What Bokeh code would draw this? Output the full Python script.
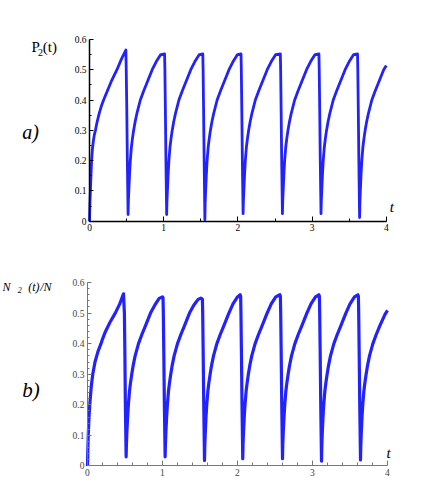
from bokeh.plotting import figure
from bokeh.layouts import column
from bokeh.models import Label, FixedTicker, LinearAxis, Range1d
from bokeh.embed import file_html
from bokeh.resources import INLINE

# ---------------- data ----------------
# panel a) : P2(t)
t_a = [0.0, 0.005, 0.012, 0.02, 0.028, 0.04, 0.052, 0.065, 0.08, 0.10, 0.13, 0.16, 0.19, 0.24, 0.30, 0.37, 0.43, 0.49,
       0.495, 0.502, 0.51, 0.52,
       0.524, 0.53, 0.54, 0.55, 0.565, 0.58, 0.595, 0.615, 0.64, 0.685, 0.73, 0.78, 0.845, 0.90, 0.96, 1.012,
       1.016, 1.022, 1.03, 1.04,
       1.044, 1.05, 1.06, 1.07, 1.085, 1.10, 1.115, 1.135, 1.16, 1.205, 1.25, 1.30, 1.365, 1.42, 1.48, 1.527,
       1.531, 1.537, 1.545, 1.555,
       1.559, 1.565, 1.575, 1.585, 1.60, 1.615, 1.63, 1.65, 1.675, 1.72, 1.765, 1.815, 1.88, 1.935, 1.995, 2.042,
       2.046, 2.052, 2.06, 2.07,
       2.074, 2.08, 2.09, 2.10, 2.115, 2.13, 2.145, 2.165, 2.19, 2.235, 2.28, 2.33, 2.395, 2.45, 2.51, 2.572,
       2.576, 2.582, 2.59, 2.60,
       2.604, 2.61, 2.62, 2.63, 2.645, 2.66, 2.675, 2.695, 2.72, 2.765, 2.81, 2.86, 2.925, 2.98, 3.04, 3.092,
       3.096, 3.102, 3.11, 3.12,
       3.124, 3.13, 3.14, 3.15, 3.165, 3.18, 3.195, 3.215, 3.24, 3.285, 3.33, 3.38, 3.445, 3.50, 3.56, 3.612,
       3.616, 3.622, 3.63, 3.64,
       3.644, 3.65, 3.66, 3.67, 3.685, 3.70, 3.715, 3.735, 3.76, 3.805, 3.85, 3.90, 3.965, 4.0]
p_a = [0.0, 0.05, 0.10, 0.15, 0.20, 0.24, 0.265, 0.285, 0.30, 0.325, 0.355, 0.38, 0.40, 0.43, 0.465, 0.50, 0.535, 0.565,
       0.50, 0.38, 0.20, 0.022,
       0.065, 0.10, 0.155, 0.20, 0.245, 0.275, 0.30, 0.328, 0.357, 0.40, 0.43, 0.46, 0.50, 0.527, 0.550, 0.552,
       0.50, 0.38, 0.20, 0.022,
       0.065, 0.10, 0.155, 0.20, 0.245, 0.275, 0.30, 0.328, 0.357, 0.40, 0.43, 0.46, 0.50, 0.527, 0.550, 0.552,
       0.50, 0.38, 0.20, 0.005,
       0.06, 0.10, 0.155, 0.20, 0.245, 0.275, 0.30, 0.328, 0.357, 0.40, 0.43, 0.46, 0.50, 0.527, 0.550, 0.552,
       0.50, 0.38, 0.20, 0.025,
       0.065, 0.10, 0.155, 0.20, 0.245, 0.275, 0.30, 0.328, 0.357, 0.40, 0.43, 0.46, 0.50, 0.527, 0.550, 0.552,
       0.50, 0.38, 0.20, 0.025,
       0.065, 0.10, 0.155, 0.20, 0.245, 0.275, 0.30, 0.328, 0.357, 0.40, 0.43, 0.46, 0.50, 0.527, 0.550, 0.552,
       0.50, 0.38, 0.20, 0.025,
       0.065, 0.10, 0.155, 0.20, 0.245, 0.275, 0.30, 0.328, 0.357, 0.40, 0.43, 0.46, 0.50, 0.527, 0.550, 0.552,
       0.50, 0.38, 0.20, 0.012,
       0.06, 0.10, 0.155, 0.20, 0.245, 0.275, 0.30, 0.328, 0.357, 0.40, 0.43, 0.46, 0.50, 0.514]

# panel b) : N2(t)/N
t_b = [0.0, 0.004, 0.01, 0.02, 0.03, 0.05, 0.07, 0.10, 0.14, 0.18, 0.20, 0.24, 0.30, 0.37, 0.43, 0.48,
       0.492, 0.498, 0.505, 0.515,
       0.519, 0.525, 0.535, 0.545, 0.56, 0.575, 0.59, 0.61, 0.635, 0.68, 0.725, 0.775, 0.84, 0.895, 0.955, 1.0, 1.007,
       1.011, 1.017, 1.025, 1.035,
       1.039, 1.045, 1.055, 1.065, 1.08, 1.095, 1.11, 1.13, 1.155, 1.20, 1.245, 1.295, 1.36, 1.415, 1.475, 1.51, 1.525, 1.532,
       1.536, 1.542, 1.55, 1.56,
       1.564, 1.57, 1.58, 1.59, 1.605, 1.62, 1.635, 1.655, 1.68, 1.725, 1.77, 1.82, 1.885, 1.94, 2.0, 2.035, 2.042,
       2.046, 2.052, 2.06, 2.07,
       2.074, 2.08, 2.09, 2.10, 2.115, 2.13, 2.145, 2.165, 2.19, 2.235, 2.28, 2.33, 2.395, 2.45, 2.51, 2.565, 2.572,
       2.576, 2.582, 2.59, 2.60,
       2.604, 2.61, 2.62, 2.63, 2.645, 2.66, 2.675, 2.695, 2.72, 2.765, 2.81, 2.86, 2.925, 2.98, 3.04, 3.085, 3.092,
       3.096, 3.102, 3.11, 3.12,
       3.124, 3.13, 3.14, 3.15, 3.165, 3.18, 3.195, 3.215, 3.24, 3.285, 3.33, 3.38, 3.445, 3.50, 3.56, 3.605, 3.612,
       3.616, 3.622, 3.63, 3.64,
       3.644, 3.65, 3.66, 3.67, 3.685, 3.70, 3.715, 3.735, 3.76, 3.805, 3.85, 3.90, 3.965, 4.0]
n_b = [0.0, 0.05, 0.10, 0.16, 0.20, 0.26, 0.30, 0.34, 0.375, 0.40, 0.415, 0.44, 0.47, 0.50, 0.53, 0.563,
       0.50, 0.38, 0.20, 0.03,
       0.07, 0.11, 0.16, 0.20, 0.245, 0.275, 0.30, 0.33, 0.36, 0.40, 0.43, 0.46, 0.50, 0.525, 0.548, 0.553, 0.55,
       0.50, 0.38, 0.20, 0.03,
       0.07, 0.11, 0.16, 0.20, 0.245, 0.275, 0.30, 0.33, 0.36, 0.40, 0.43, 0.46, 0.50, 0.525, 0.545, 0.549, 0.547, 0.545,
       0.50, 0.38, 0.20, 0.018,
       0.065, 0.105, 0.16, 0.20, 0.245, 0.275, 0.30, 0.33, 0.36, 0.40, 0.43, 0.46, 0.50, 0.53, 0.553, 0.56, 0.555,
       0.50, 0.38, 0.20, 0.024,
       0.07, 0.11, 0.16, 0.20, 0.245, 0.275, 0.30, 0.33, 0.36, 0.40, 0.43, 0.46, 0.50, 0.53, 0.553, 0.56, 0.555,
       0.50, 0.38, 0.20, 0.024,
       0.07, 0.11, 0.16, 0.20, 0.245, 0.275, 0.30, 0.33, 0.36, 0.40, 0.43, 0.46, 0.50, 0.53, 0.553, 0.56, 0.555,
       0.50, 0.38, 0.20, 0.016,
       0.065, 0.105, 0.16, 0.20, 0.245, 0.275, 0.30, 0.33, 0.36, 0.40, 0.43, 0.46, 0.50, 0.53, 0.553, 0.56, 0.555,
       0.50, 0.38, 0.20, 0.02,
       0.065, 0.105, 0.16, 0.20, 0.245, 0.275, 0.30, 0.33, 0.36, 0.40, 0.43, 0.46, 0.495, 0.509]

x_ticks = [0, 1, 2, 3, 4]
y_ticks = [0, 0.1, 0.2, 0.3, 0.4, 0.5, 0.6]
x_minor_a = [0.5, 1.5, 2.5, 3.5]
y_minor_a = [0.05, 0.15, 0.25, 0.35, 0.45, 0.55]
x_minor_b = [0.2, 0.4, 0.6, 0.8, 1.2, 1.4, 1.6, 1.8, 2.2, 2.4, 2.6, 2.8, 3.2, 3.4, 3.6, 3.8]
y_minor_b = [0.02, 0.04, 0.06, 0.08, 0.12, 0.14, 0.16, 0.18, 0.22, 0.24, 0.26, 0.28,
             0.32, 0.34, 0.36, 0.38, 0.42, 0.44, 0.46, 0.48, 0.52, 0.54, 0.56, 0.58]

BLUE = "#2222ff"
SERIF = "Liberation Serif"
W = 428


def make_panel(height, xr, yr, color, label_color, xminor, yminor, axis_w):
    p = figure(width=W, height=height, x_range=Range1d(*xr), y_range=Range1d(*yr),
               output_backend="svg", toolbar_location=None,
               x_axis_type=None, y_axis_type=None,
               min_border_left=0, min_border_right=0, min_border_top=0, min_border_bottom=0)
    p.xgrid.visible = False
    p.ygrid.visible = False
    p.outline_line_color = None
    xa = LinearAxis(fixed_location=0, bounds=(0, 4),
                    ticker=FixedTicker(ticks=x_ticks, minor_ticks=xminor))
    ya = LinearAxis(fixed_location=0, bounds=(0, 0.6),
                    ticker=FixedTicker(ticks=y_ticks, minor_ticks=yminor))
    for ax in (xa, ya):
        ax.axis_line_color = color
        ax.axis_line_width = axis_w
        ax.major_tick_line_color = color
        ax.minor_tick_line_color = color
        ax.major_tick_out = 0
        ax.minor_tick_out = 0
        ax.major_label_text_font = SERIF
        ax.major_label_text_font_size = "9.5px"
        ax.major_label_text_color = label_color
    xa.major_tick_in = 5
    xa.minor_tick_in = 3
    ya.major_tick_in = 4
    ya.minor_tick_in = 2
    xa.major_label_standoff = 3
    ya.major_label_standoff = 3
    p.add_layout(xa, "below")
    p.add_layout(ya, "left")
    return p, xa, ya


def lab(p, x, y, text, size, style="normal", color="black"):
    p.add_layout(Label(x=x, y=y, text=text, text_font=SERIF, text_font_size=size,
                       text_font_style=style, text_color=color,
                       text_baseline="alphabetic", text_align="left"))


# ---------------- panel a ----------------
pa, xa_a, ya_a = make_panel(240, (-1.1995, 4.5687), (-0.0637, 0.7284),
                            "black", "black", x_minor_a, y_minor_a, 1.5)
ya_a.major_label_overrides = {0: "0"}
pa.line(t_a, p_a, line_width=2.8, color=BLUE, line_join="round")

lab(pa, -0.782, 0.574, "P", "15px")
lab(pa, -0.694, 0.558, "2", "10px")
lab(pa, -0.629, 0.574, "(t)", "15px")
lab(pa, -0.907, 0.293, "a)", "20px", "italic")
lab(pa, 4.047, 0.046, "t", "15px", "italic")

# ---------------- panel b ----------------
pb, xa_b, ya_b = make_panel(242, (-1.16, 4.5467), (-0.054, 0.7374),
                            "#777777", "#444444", x_minor_b, y_minor_b, 1)
pb.line(t_b, n_b, line_width=3.2, color=BLUE, line_join="round")

lab(pb, -1.133, 0.585, "N", "12px", "italic")
lab(pb, -0.930, 0.574, "2", "8px", "italic")
lab(pb, -0.790, 0.585, "(t)", "12px", "italic")
lab(pb, -0.630, 0.585, "/N", "12px", "italic")
lab(pb, -0.871, 0.250, "b)", "21px", "italic")
lab(pb, 3.987, 0.043, "t", "15px", "italic")

layout = column(pa, pb)
open("out.html", "w").write(file_html(layout, INLINE))
